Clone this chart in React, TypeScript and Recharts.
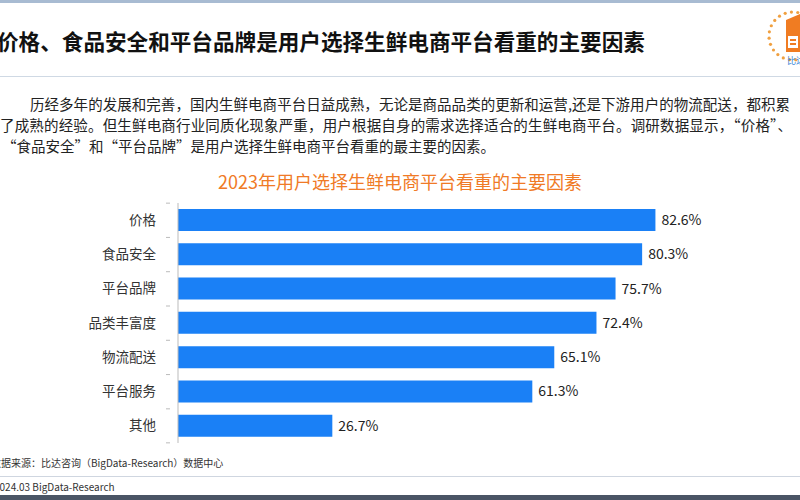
import React from 'react';
import { BarChart, Bar, XAxis, YAxis, LabelList } from 'recharts';

const categories = ['价格', '食品安全', '平台品牌', '品类丰富度', '物流配送', '平台服务', '其他'];
const shares = [82.6, 80.3, 75.7, 72.4, 65.1, 61.3, 26.7];

const pageTitle = '价格、食品安全和平台品牌是用户选择生鲜电商平台看重的主要因素';
const chartTitle = '2023年用户选择生鲜电商平台看重的主要因素';
const paragraphLines = [
  '历经多年的发展和完善，国内生鲜电商平台日益成熟，无论是商品品类的更新和运营,还是下游用户的物流配送，都积累',
  '了成熟的经验。但生鲜电商行业同质化现象严重，用户根据自身的需求选择适合的生鲜电商平台。调研数据显示，“价格”、',
  '“食品安全”和“平台品牌”是用户选择生鲜电商平台看重的最主要的因素。',
];
const sourceNote = '数据来源：比达咨询（BigData-Research）数据中心';
const footerNote = '2024.03 BigData-Research';

const data = categories.map((name, i) => ({ name, value: shares[i] }));

const FONT = '"Noto Sans CJK SC", "Noto Sans", sans-serif';

const CategoryTick = (props: any) => {
  const { x, y, payload } = props;
  return (
    <g>
      <text x={x - 14} y={y} dy={4.5} textAnchor="end" fontSize={13.5} fill="#333" fontFamily={FONT}>
        {payload.value}
      </text>
      <line x1={x - 4} x2={x} y1={y - 17} y2={y - 17} stroke="#bbb" />
      {payload.index === categories.length - 1 && (
        <line x1={x - 4} x2={x} y1={y + 17} y2={y + 17} stroke="#bbb" />
      )}
    </g>
  );
};

const Logo = () => (
  <svg width={40} height={70} style={{ position: 'absolute', left: 760, top: 4 }}>
    {Array.from({ length: 14 }).map((_, i) => {
      const a = Math.PI / 2 + (i / 13) * Math.PI * 1.1 - 0.2;
      return (
        <circle key={i} cx={33 + 24 * Math.cos(a)} cy={32 - 24 * Math.sin(a)} r={1.6} fill="#f0a040" />
      );
    })}
    <path d="M26 16 L40 10 L40 48 L26 48 Z" fill="#f07c22" />
    <rect x={28} y={32} width={10} height={12} fill="#fff" />
    <rect x={30} y={35} width={6} height={2} fill="#f07c22" />
    <rect x={30} y={39} width={6} height={2} fill="#f07c22" />
    <text x={27} y={60} fontSize={9} fill="#3a86d8" fontFamily={FONT}>比达</text>
  </svg>
);

export default function App() {
  return (
    <div
      style={{
        position: 'absolute',
        left: 0,
        top: 0,
        width: 800,
        height: 500,
        overflow: 'hidden',
        background: '#fff',
        fontFamily: FONT,
      }}
    >
      <div style={{ position: 'absolute', left: 0, top: 0, width: 800, height: 3, background: '#a8bbd2' }} />
      <div
        style={{
          position: 'absolute',
          left: -3,
          top: 26,
          fontSize: 21.6,
          fontWeight: 700,
          color: '#111',
          whiteSpace: 'nowrap',
          lineHeight: '30px',
        }}
      >
        {pageTitle}
      </div>
      <Logo />
      <div style={{ position: 'absolute', left: 0, top: 76, width: 800, height: 1, background: '#cfd9e4' }} />

      {paragraphLines.map((line, i) => (
        <div
          key={i}
          style={{
            position: 'absolute',
            left: i === 0 ? 30 : i === 1 ? 0 : 2,
            top: 94 + i * 21,
            width: i === 0 ? 760 : i === 1 ? 792 : undefined,
            fontSize: 14.5,
            lineHeight: '20px',
            color: '#222',
            whiteSpace: 'nowrap',
            textAlign: i < 2 ? 'justify' : 'left',
            textAlignLast: i < 2 ? 'justify' : 'auto',
          } as React.CSSProperties}
        >
          {line}
        </div>
      ))}

      <div
        style={{
          position: 'absolute',
          left: 0,
          top: 169,
          width: 800,
          textAlign: 'center',
          fontSize: 18,
          color: '#f07a26',
          lineHeight: '24px',
        }}
      >
        {chartTitle}
      </div>

      <div style={{ position: 'absolute', left: 0, top: 195 }}>
        <BarChart
          width={800}
          height={254}
          data={data}
          layout="vertical"
          margin={{ top: 8, right: 44, bottom: 6, left: 0 }}
          barCategoryGap={12}
        >
          <XAxis type="number" domain={[0, 100]} hide />
          <YAxis
            type="category"
            dataKey="name"
            width={178}
            axisLine={{ stroke: '#bbb' }}
            tickLine={false}
            tick={<CategoryTick />}
            interval={0}
          />
          <Bar dataKey="value" fill="#1a80f6" barSize={22} isAnimationActive={false}>
            <LabelList
              dataKey="value"
              position="right"
              offset={6}
              formatter={(v: any) => `${Number(v).toFixed(1)}%`}
              style={{ fontSize: 14, fill: '#222', fontFamily: FONT }}
            />
          </Bar>
        </BarChart>
      </div>

      <div
        style={{
          position: 'absolute',
          left: -9,
          top: 456,
          fontSize: 10,
          color: '#333',
          whiteSpace: 'nowrap',
          lineHeight: '14px',
        }}
      >
        {sourceNote}
      </div>
      <div style={{ position: 'absolute', left: 0, top: 476, width: 800, height: 1, background: '#cfd6e0' }} />
      <div
        style={{
          position: 'absolute',
          left: -6,
          top: 480,
          fontSize: 10,
          color: '#333',
          whiteSpace: 'nowrap',
          lineHeight: '14px',
        }}
      >
        {footerNote}
      </div>
      <div style={{ position: 'absolute', left: 0, top: 495, width: 800, height: 5, background: '#4a5565' }} />
    </div>
  );
}
